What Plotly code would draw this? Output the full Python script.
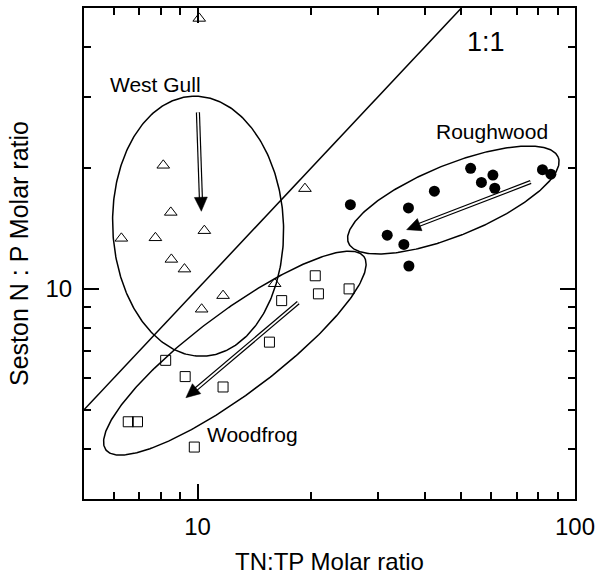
import numpy as np
import plotly.graph_objects as go

# ---------------- data ----------------
west_gull_x = [10.1, 8.11, 8.49, 10.42, 6.28, 7.73, 8.52, 9.23, 10.25, 11.68, 16.0, 19.25]
west_gull_y = [47.1, 20.3, 15.5, 13.96, 13.36, 13.4, 11.84, 11.2, 8.9, 9.62, 10.3, 17.76]

woodfrog_x = [16.7, 15.5, 8.23, 9.27, 11.68, 6.55, 6.93, 9.80, 20.5, 20.9, 25.2]
woodfrog_y = [9.35, 7.37, 6.64, 6.05, 5.70, 4.67, 4.67, 4.04, 10.78, 9.72, 10.0]

roughwood_x = [25.4, 36.2, 42.4, 52.9, 60.6, 56.5, 61.3, 82.0, 86.3, 31.8, 35.2, 36.3]
roughwood_y = [16.2, 15.9, 17.5, 19.95, 19.2, 18.4, 17.8, 19.8, 19.3, 13.6, 12.9, 11.4]

one_to_one = [5, 50]

x_major = [10, 100]
x_major_text = ["10", "100"]
x_minor = [6, 7, 8, 9, 20, 30, 40, 50, 60, 70, 80, 90]
y_major = [10]
y_major_text = ["10"]
y_minor = [4, 5, 6, 7, 8, 9, 20, 30, 40]

X_RANGE = [5, 100]
Y_RANGE = [3, 50]

# group annotations: label, label position, ellipse centre, arrow tail -> tip
groups = {
    "West Gull": dict(label=(7.72, 32.2), centre=(10.03, 14.32),
                      tail=(10.02, 27.5), tip=(10.23, 15.6)),
    "Roughwood": dict(label=(60.4, 24.6), centre=(47.6, 16.64),
                      tail=(76.3, 18.45), tip=(35.8, 14.04)),
    "Woodfrog": dict(label=(13.96, 4.33), centre=(12.55, 6.92),
                     tail=(18.48, 9.24), tip=(9.31, 5.36)),
}
# ellipse geometry in screen pixels (semi-major, semi-minor, angle in degrees)
ellipse_geom = {
    "West Gull": (130.1, 85.4, 92.5),
    "Roughwood": (113.3, 35.5, 22.2),
    "Woodfrog": (161.2, 40.6, 36.85),
}

# ---------------- layout geometry ----------------
W, H = 597, 577
ML, MR, MT, MB = 84, 22, 8, 78
PW, PH = W - ML - MR, H - MT - MB
lx0, lx1 = np.log10(X_RANGE)
ly0, ly1 = np.log10(Y_RANGE)
SX = PW / (lx1 - lx0)   # px per decade
SY = PH / (ly1 - ly0)

fig = go.Figure()

# 1:1 line
fig.add_trace(go.Scatter(x=one_to_one, y=one_to_one, mode="lines",
                         line=dict(color="black", width=1.5), hoverinfo="skip"))

# ellipses
t = np.linspace(0, 2 * np.pi, 361)
for name, g in groups.items():
    a, b, ang = ellipse_geom[name]
    phi = np.deg2rad(ang)
    cx, cy = np.log10(g["centre"][0]), np.log10(g["centre"][1])
    ex = cx + (a * np.cos(t) * np.cos(phi) - b * np.sin(t) * np.sin(phi)) / SX
    ey = cy + (a * np.cos(t) * np.sin(phi) + b * np.sin(t) * np.cos(phi)) / SY
    fig.add_trace(go.Scatter(x=10 ** ex, y=10 ** ey, mode="lines",
                             line=dict(color="black", width=1.5), hoverinfo="skip"))

# arrows (double-line shaft + filled head)
HEAD_L, HEAD_W = 14, 6.5
for name, g in groups.items():
    tx, ty = np.log10(g["tail"][0]) * SX, np.log10(g["tail"][1]) * SY
    px, py = np.log10(g["tip"][0]) * SX, np.log10(g["tip"][1]) * SY
    d = np.array([px - tx, py - ty])
    u = d / np.linalg.norm(d)
    n = np.array([-u[1], u[0]])
    base = np.array([px, py]) - u * HEAD_L
    shaft_end = base + u * 2
    sx_ = np.array([tx, shaft_end[0]]) / SX
    sy_ = np.array([ty, shaft_end[1]]) / SY
    fig.add_trace(go.Scatter(x=10 ** sx_, y=10 ** sy_, mode="lines",
                             line=dict(color="black", width=4.2), hoverinfo="skip"))
    fig.add_trace(go.Scatter(x=10 ** sx_, y=10 ** sy_, mode="lines",
                             line=dict(color="white", width=1.8), hoverinfo="skip"))
    hx = np.array([px, base[0] + n[0] * HEAD_W, base[0] - n[0] * HEAD_W, px]) / SX
    hy = np.array([py, base[1] + n[1] * HEAD_W, base[1] - n[1] * HEAD_W, py]) / SY
    fig.add_trace(go.Scatter(x=10 ** hx, y=10 ** hy, mode="lines", fill="toself",
                             fillcolor="black", line=dict(color="black", width=0.5),
                             hoverinfo="skip"))

# data points
fig.add_trace(go.Scatter(x=west_gull_x, y=west_gull_y, mode="markers", name="West Gull",
                         marker=dict(symbol="triangle-up-open", size=11, color="black",
                                     line=dict(width=1, color="black"))))
fig.add_trace(go.Scatter(x=woodfrog_x, y=woodfrog_y, mode="markers", name="Woodfrog",
                         marker=dict(symbol="square-open", size=10, color="black",
                                     line=dict(width=1, color="black"))))
fig.add_trace(go.Scatter(x=roughwood_x, y=roughwood_y, mode="markers", name="Roughwood",
                         marker=dict(symbol="circle", size=11, color="black",
                                     line=dict(width=0, color="black"))))

# text labels
for name, g in groups.items():
    fig.add_annotation(x=np.log10(g["label"][0]), y=np.log10(g["label"][1]),
                       text=name, showarrow=False, font=dict(size=21, color="black"),
                       xanchor="center", yanchor="middle")
fig.add_annotation(x=np.log10(58), y=np.log10(41.2), text="1:1", showarrow=False,
                   font=dict(size=27, color="black"), xanchor="center", yanchor="middle")

axis_common = dict(type="log", showgrid=False, zeroline=False, showline=True,
                   linecolor="black", linewidth=2, mirror="ticks", ticks="inside",
                   ticklen=15, tickwidth=1.5, tickcolor="black",
                   tickfont=dict(size=24, color="black"))

fig.update_xaxes(range=[lx0, lx1], tickmode="array", tickvals=x_major, ticktext=x_major_text,
                 minor=dict(tickmode="array", tickvals=x_minor, ticks="inside", ticklen=7,
                            tickwidth=1.5, tickcolor="black"),
                 ticklabelstandoff=5,
                 title=dict(text="TN:TP Molar ratio", font=dict(size=24, color="black"),
                            standoff=14),
                 **axis_common)
fig.update_yaxes(range=[ly0, ly1], tickmode="array", tickvals=y_major, ticktext=y_major_text,
                 minor=dict(tickmode="array", tickvals=y_minor, ticks="inside", ticklen=7,
                            tickwidth=1.5, tickcolor="black"),
                 ticklabelstandoff=5,
                 title=dict(text="Seston N : P Molar ratio", font=dict(size=25, color="black"),
                            standoff=10),
                 **axis_common)

fig.update_layout(width=W, height=H, margin=dict(l=ML, r=MR, t=MT, b=MB, autoexpand=False),
                  paper_bgcolor="white", plot_bgcolor="white", showlegend=False,
                  font=dict(family="Liberation Sans, Arial, sans-serif", color="black"))

fig.write_html("out.html")
